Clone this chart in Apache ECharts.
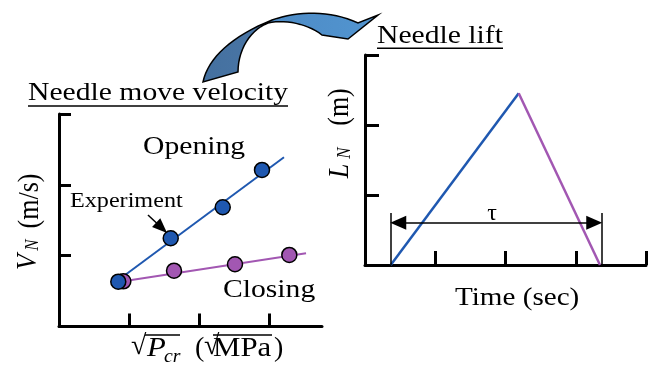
<!DOCTYPE html>
<html><head><meta charset="utf-8">
<script src="https://cdn.jsdelivr.net/npm/echarts@6/dist/echarts.min.js"></script>
<style>html,body{margin:0;padding:0;background:#fff}#c{width:660px;height:368px}</style>
</head><body><div id="c"></div>
<script>
// ---- Left panel: needle move velocity vs sqrt(Pcr) ----
const openX = [0.847, 1.596, 2.339, 2.900];
const openV = [0.633, 1.246, 1.684, 2.210];
const closeX = [0.919, 1.643, 2.514, 3.290];
const closeV = [0.638, 0.788, 0.879, 1.010];
const openFitX = [0.824, 3.214];
const openFitV = [0.638, 2.390];
const closeFitX = [0.919, 3.529];
const closeFitV = [0.638, 1.034];
const expArrowX = [1.271, 1.466];
const expArrowV = [1.575, 1.393];
const leftXTicks = [1, 2, 3];
const leftYTicks = [1, 2, 3];
// ---- Right panel: needle lift vs time ----
const liftOpenT = [0.366, 2.188];
const liftOpenL = [0, 2.453];
const liftCloseT = [2.188, 3.345];
const liftCloseL = [2.453, 0];
const tauT = [0.366, 3.37];          // tau bracket bars
const tauArrowT = [0.473, 3.263];    // arrow-head centres
const tauLevel = 0.604;
const tauBarTop = 0.743;
const rightXTicks = [1, 2, 3, 4];
const rightYTicks = [1, 2, 3];

const BLUE = '#1f58b0', PURPLE = '#a257b2';
const SERIF = "'Liberation Serif', 'Times New Roman', Times, serif";
const zip = (a, b) => a.map((v, i) => [v, b[i]]);

function axis(min, max, ticks, idx, len) {
  return {
    type: 'value', gridIndex: idx, min: min, max: max, interval: 1,
    axisLine: { show: true, onZero: false, lineStyle: { color: '#000', width: 3 } },
    axisTick: { show: true, inside: true, length: len, customValues: ticks, lineStyle: { color: '#000', width: 3 } },
    axisLabel: { show: false }, splitLine: { show: false }
  };
}

function txt(x, y, s, size, opts) {
  opts = opts || {};
  return {
    type: 'text', x: x, y: y, rotation: opts.rot || 0,
    scaleX: opts.sx || 1, scaleY: opts.sy || 1, z: 100,
    style: {
      text: s, fontFamily: SERIF, fontSize: size, fontStyle: opts.italic ? 'italic' : 'normal',
      fill: '#000', textAlign: opts.align || 'left', align: opts.align || 'left',
      textVerticalAlign: 'middle', verticalAlign: 'middle'
    }
  };
}
function ln(x1, y1, x2, y2, w) {
  return { type: 'line', z: 100, shape: { x1: x1, y1: y1, x2: x2, y2: y2 }, style: { stroke: '#000', lineWidth: w || 1.5 } };
}
// sample a cubic bezier (decorative curved arrow outline)
function bez(p0, p1, p2, p3, n) {
  const out = [];
  for (let i = 1; i <= n; i++) {
    const t = i / n, u = 1 - t;
    out.push([
      u*u*u*p0[0] + 3*u*u*t*p1[0] + 3*u*t*t*p2[0] + t*t*t*p3[0],
      u*u*u*p0[1] + 3*u*u*t*p1[1] + 3*u*t*t*p2[1] + t*t*t*p3[1]
    ]);
  }
  return out;
}
const arrowPts = [[203, 82]]
  .concat(bez([203, 82], [208, 58], [232, 36], [272, 20], 16))
  .concat(bez([272, 20], [298, 11], [330, 10], [358, 23], 16))
  .concat([[378, 15], [348, 39], [322, 35]])
  .concat(bez([322, 35], [308, 24], [285, 19], [268, 23], 14))
  .concat(bez([268, 23], [250, 30], [238, 50], [238, 72], 14));

const chart = echarts.init(document.getElementById('c'), null, { renderer: 'canvas' });
chart.setOption({
  animation: false,
  backgroundColor: '#fff',
  grid: [
    { left: 59, top: 114, width: 263, height: 212.5 },
    { left: 365, top: 55, width: 281, height: 210 }
  ],
  xAxis: [axis(0, 3.757, leftXTicks, 0, 13), axis(0, 4, rightXTicks, 1, 14)],
  yAxis: [axis(0, 3, leftYTicks, 0, 12), axis(0, 3, rightYTicks, 1, 14)],
  series: [
    { type: 'line', xAxisIndex: 0, yAxisIndex: 0, data: zip(closeFitX, closeFitV), symbol: 'none', lineStyle: { color: PURPLE, width: 2 }, z: 2 },
    { type: 'line', xAxisIndex: 0, yAxisIndex: 0, data: zip(openFitX, openFitV), symbol: 'none', lineStyle: { color: BLUE, width: 2 }, z: 2 },
    { type: 'scatter', xAxisIndex: 0, yAxisIndex: 0, data: zip(closeX, closeV), symbolSize: 15,
      itemStyle: { color: PURPLE, borderColor: '#000', borderWidth: 1.5, opacity: 1 }, z: 3 },
    { type: 'scatter', xAxisIndex: 0, yAxisIndex: 0, data: zip(openX, openV), symbolSize: 15,
      itemStyle: { color: BLUE, borderColor: '#000', borderWidth: 1.5, opacity: 1 }, z: 4,
      markLine: { silent: true, animation: false, label: { show: false }, lineStyle: { color: '#000', width: 1.5, type: 'solid' },
        symbol: ['none', 'triangle'], symbolSize: [12, 15],
        data: [[{ coord: [expArrowX[0], expArrowV[0]] }, { coord: [expArrowX[1], expArrowV[1]] }]] } },
    { type: 'line', xAxisIndex: 1, yAxisIndex: 1, data: zip(liftOpenT, liftOpenL), symbol: 'none', lineStyle: { color: BLUE, width: 2.5 }, z: 2 },
    { type: 'line', xAxisIndex: 1, yAxisIndex: 1, data: zip(liftCloseT, liftCloseL), symbol: 'none', lineStyle: { color: PURPLE, width: 2.5 }, z: 2,
      markLine: { silent: true, animation: false, label: { show: false }, lineStyle: { color: '#000', width: 1.5, type: 'solid' },
        symbolSize: [14, 16],
        data: [
          [{ coord: [tauArrowT[0], tauLevel], symbol: 'triangle' }, { coord: [tauArrowT[1], tauLevel], symbol: 'triangle' }],
          [{ coord: [tauT[0], 0], symbol: 'none' }, { coord: [tauT[0], tauBarTop], symbol: 'none' }],
          [{ coord: [tauT[1], 0], symbol: 'none' }, { coord: [tauT[1], tauBarTop], symbol: 'none' }]
        ] } }
  ],
  graphic: [
    { type: 'polygon', z: 90,
      shape: { points: arrowPts },
      style: { lineWidth: 1.5, stroke: '#000',
        fill: { type: 'linear', x: 0, y: 0, x2: 1, y2: 0, colorStops: [
          { offset: 0, color: '#44709f' }, { offset: 0.37, color: '#4a76a6' },
          { offset: 0.39, color: '#4d8bc6' }, { offset: 1, color: '#5295d0' }] } } },
    txt(28, 93.5, 'Needle move velocity', 26, { sx: 1.14 }),
    ln(28, 106, 288, 106, 1.5),
    txt(377, 36, 'Needle lift', 26, { sx: 1.14 }),
    ln(377, 48.3, 503, 48.3, 1.5),
    txt(143, 147, 'Opening', 26, { sx: 1.14 }),
    txt(223, 290, 'Closing', 26, { sx: 1.14 }),
    txt(70, 201.5, 'Experiment', 21, { sx: 1.15 }),
    txt(455, 298.5, 'Time (sec)', 26, { sx: 1.12 }),
    txt(492, 213.5, 'τ', 24, { align: 'center' }),
    txt(28, 262, 'V', 26, { italic: true, rot: Math.PI / 2, align: 'center', sy: 1.1 }),
    txt(33, 245, 'N', 17, { italic: true, rot: Math.PI / 2, align: 'center', sy: 1.1 }),
    txt(30, 201, '(m/s)', 26, { rot: Math.PI / 2, align: 'center', sy: 1.1 }),
    txt(340, 171, 'L', 26, { italic: true, rot: Math.PI / 2, align: 'center', sy: 1.1 }),
    txt(345, 153, 'N', 17, { italic: true, rot: Math.PI / 2, align: 'center', sy: 1.1 }),
    txt(340, 107, '(m)', 26, { rot: Math.PI / 2, align: 'center', sy: 1.1 }),
    txt(131, 347, '√', 28, {}),
    txt(147, 348.5, 'P', 28, { italic: true, sx: 1.1 }),
    txt(164, 357, 'cr', 18, { italic: true, sx: 1.1 }),
    txt(195, 348.5, '(', 28, {}),
    txt(204, 347, '√', 28, {}),
    txt(213, 348.5, 'MPa', 28, { sx: 1.1 }),
    txt(274, 348.5, ')', 28, {}),
    ln(145, 335, 180, 335, 1.5),
    ln(213, 335, 272, 335, 1.5)
  ]
});
</script>
</body></html>
